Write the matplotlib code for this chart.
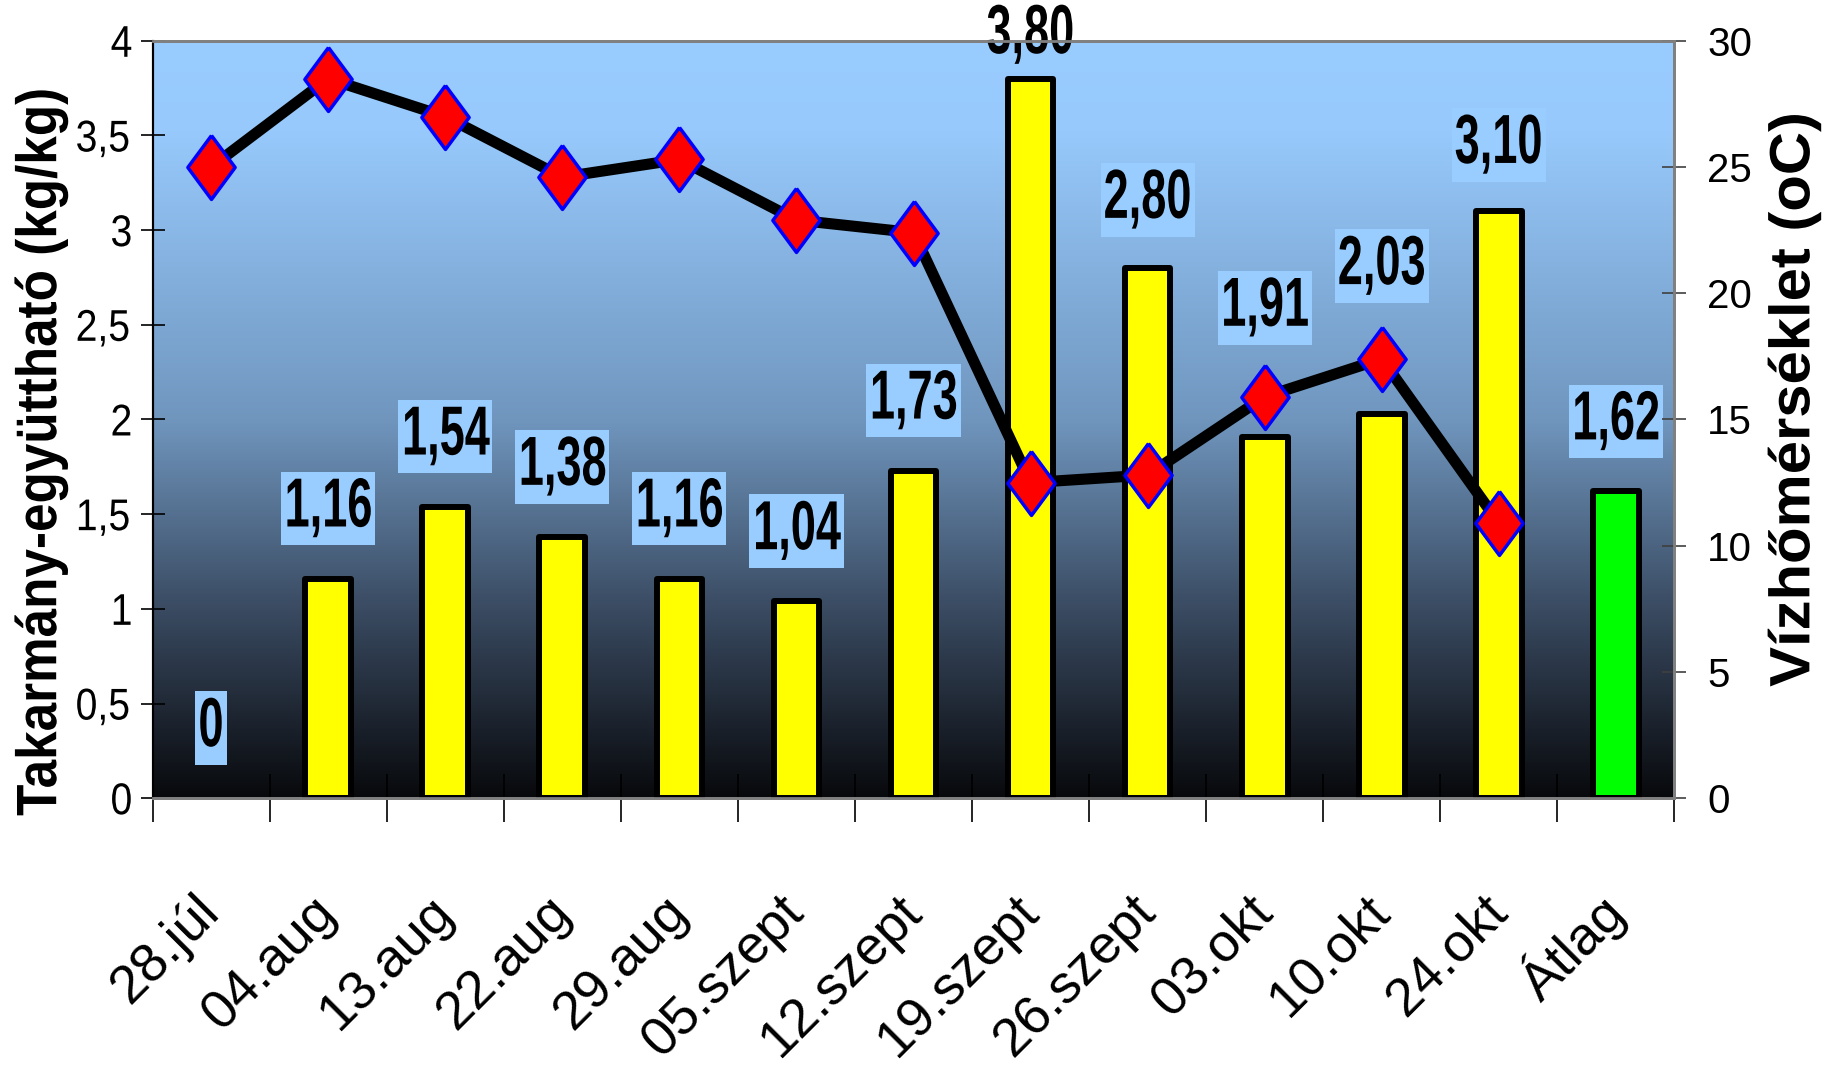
import numpy as np
import matplotlib
matplotlib.use('Agg')
import matplotlib.pyplot as plt
from matplotlib import patheffects
from matplotlib.colors import LinearSegmentedColormap
from matplotlib.transforms import Affine2D

dates = ['28.júl', '04.aug', '13.aug', '22.aug', '29.aug', '05.szept', '12.szept',
         '19.szept', '26.szept', '03.okt', '10.okt', '24.okt', 'Átlag']
feed_coef = [0, 1.16, 1.54, 1.38, 1.16, 1.04, 1.73, 3.80, 2.80, 1.91, 2.03, 3.10, 1.62]
water_temp = [25.0, 28.5, 27.0, 24.6, 25.3, 22.9, 22.4, 12.5, 12.8, 15.9, 17.4, 10.9]

# how far above the bar top each value label sits (left axis units)
label_lift = [0.37, 0.37, 0.37, 0.37, 0.37, 0.37, 0.37, 0.23, 0.36, 0.68, 0.78, 0.35, 0.37]


class Squeeze(patheffects.AbstractPathEffect):
    # narrows glyphs along the text direction, like the condensed Excel fonts
    def __init__(self, sx):
        super().__init__()
        self.sx = sx

    def draw_path(self, renderer, gc, tpath, affine, rgbFace=None):
        ext = tpath.get_extents()
        cx = (ext.x0 + ext.x1) / 2
        sq = Affine2D().translate(-cx, 0).scale(self.sx, 1).translate(cx, 0)
        renderer.draw_path(gc, tpath, sq + affine, rgbFace)


plt.rcParams['font.family'] = ['Liberation Sans', 'DejaVu Sans']

fig = plt.figure(figsize=(18.27, 10.82), dpi=100)
ax = fig.add_axes([0.0835, 0.2623, 0.833, 0.70])
ax2 = ax.twinx()

x = np.arange(len(dates))

# background gradient, light blue at top to near black at the bottom
bg = LinearSegmentedColormap.from_list('bg', [
    (0.0, '#99CCFF'), (0.12, '#97C9FC'), (0.5, '#7096BE'),
    (0.75, '#3A4B62'), (1.0, '#08090C')])
grad = np.linspace(0, 1, 256).reshape(-1, 1)
ax.imshow(grad, cmap=bg, aspect='auto', extent=[-0.5, 12.5, 0, 4],
          origin='upper', zorder=0)

colors = ['#FFFF00'] * (len(dates) - 1) + ['#00FF00']
lws = [0 if v == 0 else 4.3 for v in feed_coef]
bars = ax.bar(x, feed_coef, width=0.39, color=colors, edgecolor='black',
              linewidth=lws, zorder=3)
for b in bars:
    b.set_joinstyle('round')

for i, v in enumerate(feed_coef):
    txt = '0' if v == 0 else f'{v:.2f}'.replace('.', ',')
    y = v + label_lift[i]
    box = None
    if y < 3.9:
        box = dict(boxstyle='square,pad=0.07', facecolor='#99CCFF', edgecolor='none')
    t = ax.text(x[i], y, txt, ha='center', va='center', fontsize=50,
                fontweight='bold', color='black', bbox=box, zorder=5,
                clip_on=False)
    t.set_path_effects([Squeeze(0.65)])
    if box is not None:
        t.get_bbox_patch().set_path_effects([Squeeze(0.65)])

diamond = [(0, 1), (0.74, 0), (0, -1), (-0.74, 0), (0, 1)]
ax2.plot(x[:len(water_temp)], water_temp, color='black', lw=8,
         marker=diamond, ms=46, mfc='#FF0000', mec='#0000FF', mew=2.5, zorder=4)

ax.set_xlim(-0.5, 12.5)
ax.set_ylim(0, 4)
ax2.set_ylim(0, 30)

yt = np.arange(0, 4.01, 0.5)
ax.set_yticks(yt)
ax.set_yticklabels([('%g' % v).replace('.', ',') for v in yt], fontsize=32)
for lab in ax.get_yticklabels():
    lab.set_path_effects([Squeeze(0.88)])
ax.tick_params(axis='y', direction='inout', length=17, width=1.2, pad=5)

ax2.set_yticks(np.arange(0, 31, 5))
ax2.tick_params(axis='y', direction='inout', length=17, width=1.2, pad=15,
                labelsize=29, color='#404040')

ax.set_xticks(x)
ax.set_xticklabels(dates, rotation=45, ha='right', rotation_mode='anchor',
                   va='center', fontsize=39)
ax.set_xticks(np.arange(-0.5, 13, 1), minor=True)
ax.tick_params(axis='x', which='major', length=0, pad=76)
ax.tick_params(axis='x', which='minor', direction='inout', length=34, width=1.2)

for a in (ax, ax2):
    for s in ('top', 'right', 'bottom'):
        a.spines[s].set_color('#808080')
        a.spines[s].set_linewidth(2)
    a.spines['left'].set_color('black')
    a.spines['left'].set_linewidth(1.5)

fig.text(0.0224, 0.583, 'Takarmány-együttható (kg/kg)', rotation=90,
         ha='center', va='center', fontsize=41, fontweight='bold',
         path_effects=[Squeeze(0.9)])
fig.text(0.982, 0.631, 'Vízhőmérséklet (oC)', rotation=90,
         ha='center', va='center', fontsize=41, fontweight='bold',
         path_effects=[Squeeze(1.05)])

fig.savefig('out.png', dpi=100)
